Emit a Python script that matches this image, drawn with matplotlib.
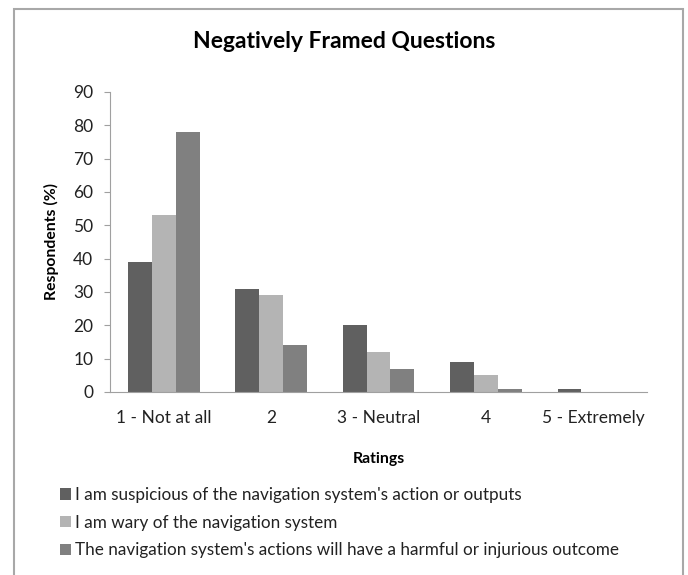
import matplotlib
matplotlib.use("Agg")
import matplotlib.pyplot as plt
import numpy as np
from matplotlib.patches import Rectangle

categories = ["1 - Not at all", "2", "3 - Neutral", "4", "5 - Extremely"]
series_names = [
    "I am suspicious of the navigation system's action or outputs",
    "I am wary of the navigation system",
    "The navigation system's actions will have a harmful or injurious outcome",
]
suspicious = [39, 31, 20, 9, 1]
wary = [53, 29, 12, 5, 0]
harmful = [78, 14, 7, 1, 0]
yticks = [0, 10, 20, 30, 40, 50, 60, 70, 80, 90]

colors = ["#606060", "#b4b4b4", "#808080"]

plt.rcParams["font.family"] = ["Lato", "DejaVu Sans"]

fig = plt.figure(figsize=(6.88, 5.75), dpi=100)
# chart frame
fig.patches.append(Rectangle((14 / 688, -0.01), 669 / 688, 1 - 9 / 575 + 0.01,
                             transform=fig.transFigure, fill=False,
                             edgecolor="#a8a8a8", linewidth=1.5))

ax = fig.add_axes([110 / 688, 1 - 392 / 575, 537 / 688, 300 / 575])

x = np.arange(len(categories))
w = 1 / 4.5
for i, (vals, c, name) in enumerate(zip([suspicious, wary, harmful], colors, series_names)):
    ax.bar(x + (i - 1) * w, vals, width=w, color=c, label=name)

ax.set_xlim(-0.5, len(categories) - 0.5)
ax.set_ylim(0, 90)
ax.set_yticks(yticks)
ax.set_xticks(x)
ax.set_xticklabels(categories)
ax.tick_params(axis="x", length=0, pad=13, labelsize=12.5, colors="#222222")
ax.tick_params(axis="y", length=4, direction="out", color="#a0a0a0",
               labelsize=12.5, labelcolor="#222222", pad=8)
for s in ["top", "right"]:
    ax.spines[s].set_visible(False)
for s in ["left", "bottom"]:
    ax.spines[s].set_color("#a0a0a0")

ax.set_ylabel("Respondents (%)", fontsize=11.3, fontweight="bold", labelpad=10)
ax.set_xlabel("Ratings", fontsize=11.3, fontweight="bold", labelpad=19)

fig.text(0.5, 1 - 41 / 575, "Negatively Framed Questions", ha="center", va="center",
         fontsize=16.5, fontweight="bold")

handles, labels = ax.get_legend_handles_labels()
leg = fig.legend(handles, labels, loc="upper left", bbox_to_anchor=(60 / 688, 1 - 487 / 575),
                 frameon=False, fontsize=12.3, handlelength=0.65, handleheight=0.65,
                 handletextpad=0.25, labelspacing=0.68, labelcolor="#222222",
                 borderaxespad=0, borderpad=0)

fig.savefig("out.png", dpi=100)
